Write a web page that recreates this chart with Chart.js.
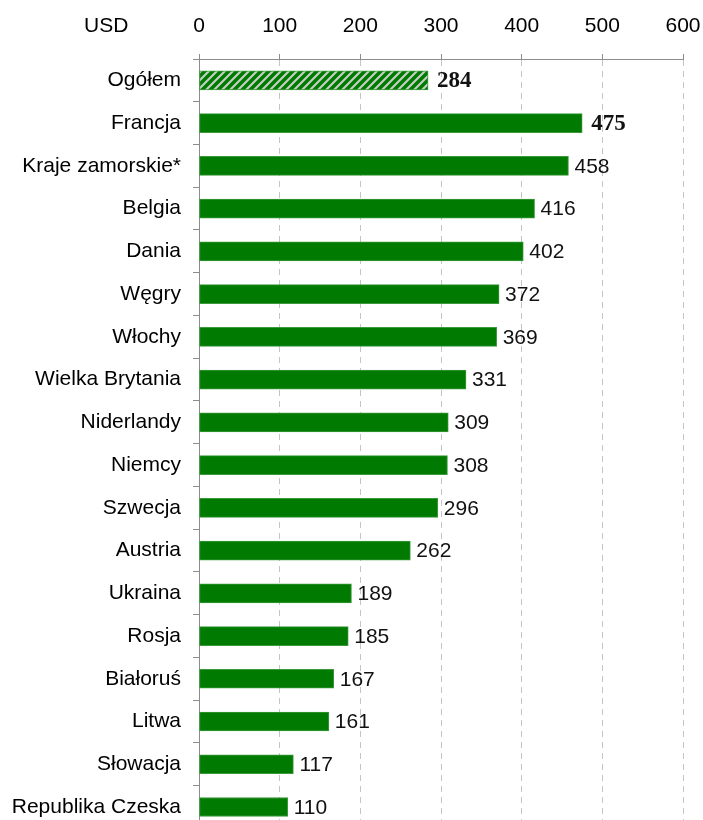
<!DOCTYPE html>
<html>
<head>
<meta charset="utf-8">
<script src="https://cdn.jsdelivr.net/npm/chart.js@4"></script>
<style>
  html, body { margin: 0; padding: 0; background: #fff; overflow: hidden; }
  canvas { display: block; }
</style>
</head>
<body>
<canvas id="usdChart" width="703" height="853"></canvas>
<script>
const countries = ['Ogółem', 'Francja', 'Kraje zamorskie*', 'Belgia', 'Dania', 'Węgry', 'Włochy',
  'Wielka Brytania', 'Niderlandy', 'Niemcy', 'Szwecja', 'Austria', 'Ukraina', 'Rosja',
  'Białoruś', 'Litwa', 'Słowacja', 'Republika Czeska'];
const usd = [284, 475, 458, 416, 402, 372, 369, 331, 309, 308, 296, 262, 189, 185, 167, 161, 117, 110];
const xTicks = [0, 100, 200, 300, 400, 500, 600];
const unitLabel = 'USD';

const SANS = '"Liberation Sans", Arial, sans-serif';
const green = '#007a00';

// striped fill for the "Ogółem" bar
function stripes() {
  const c = document.createElement('canvas');
  c.width = 8; c.height = 8;
  const g = c.getContext('2d');
  g.fillStyle = green;
  g.fillRect(0, 0, 8, 8);
  g.strokeStyle = '#c4cfc4';
  g.lineWidth = 2.2;
  g.beginPath();
  g.moveTo(-2, 10); g.lineTo(10, -2);
  g.moveTo(-2, 2); g.lineTo(2, -2);
  g.moveTo(6, 10); g.lineTo(10, 6);
  g.stroke();
  return g.createPattern(c, 'repeat');
}

const ctx = document.getElementById('usdChart').getContext('2d');
const fills = usd.map((v, i) => i === 0 ? stripes() : green);

const valueLabels = {
  id: 'valueLabels',
  afterDatasetsDraw(chart) {
    const c = chart.ctx;
    const meta = chart.getDatasetMeta(0);
    c.save();
    c.textBaseline = 'middle';
    c.textAlign = 'left';
    c.fillStyle = '#111';
    meta.data.forEach((bar, i) => {
      if (i < 2) {
        c.font = 'bold 23px "Liberation Serif", "Times New Roman", serif';
        c.fillText(String(usd[i]), bar.x + 9, bar.y + 1);
      } else {
        c.font = '21px ' + SANS;
        c.fillText(String(usd[i]), bar.x + 6, bar.y + 1);
      }
    });
    c.font = '21px ' + SANS;
    c.fillStyle = '#000';
    c.fillText(unitLabel, 84, 26);
    c.restore();
  }
};

new Chart(ctx, {
  type: 'bar',
  data: {
    labels: countries,
    datasets: [{
      data: usd,
      backgroundColor: fills,
      borderColor: '#3a9a3a',
      borderWidth: 1,
      borderSkipped: false,
      barThickness: 19
    }]
  },
  options: {
    indexAxis: 'y',
    responsive: false,
    animation: false,
    layout: { padding: { top: 0, right: 20, bottom: 0, left: 0 } },
    plugins: { legend: { display: false }, tooltip: { enabled: false } },
    scales: {
      x: {
        position: 'top',
        min: 0,
        max: 600,
        afterBuildTicks: s => { s.ticks = xTicks.map(v => ({ value: v })); },
        afterFit: s => { s.height = 59; s.paddingLeft = 0; s.paddingRight = 0; },
        ticks: { font: { family: SANS, size: 21 }, color: '#000', padding: 15 },
        grid: { color: '#c4c4c4', tickColor: '#8c8c8c', tickLength: 5 },
        border: { color: '#8c8c8c', dash: [6, 5] }
      },
      y: {
        afterFit: s => { s.width = 199; },
        ticks: { font: { family: SANS, size: 21 }, color: '#000', padding: 12 },
        grid: { drawOnChartArea: false, tickColor: '#8c8c8c', tickLength: 6 },
        border: { color: '#8c8c8c' }
      }
    }
  },
  plugins: [valueLabels]
});
</script>
</body>
</html>
